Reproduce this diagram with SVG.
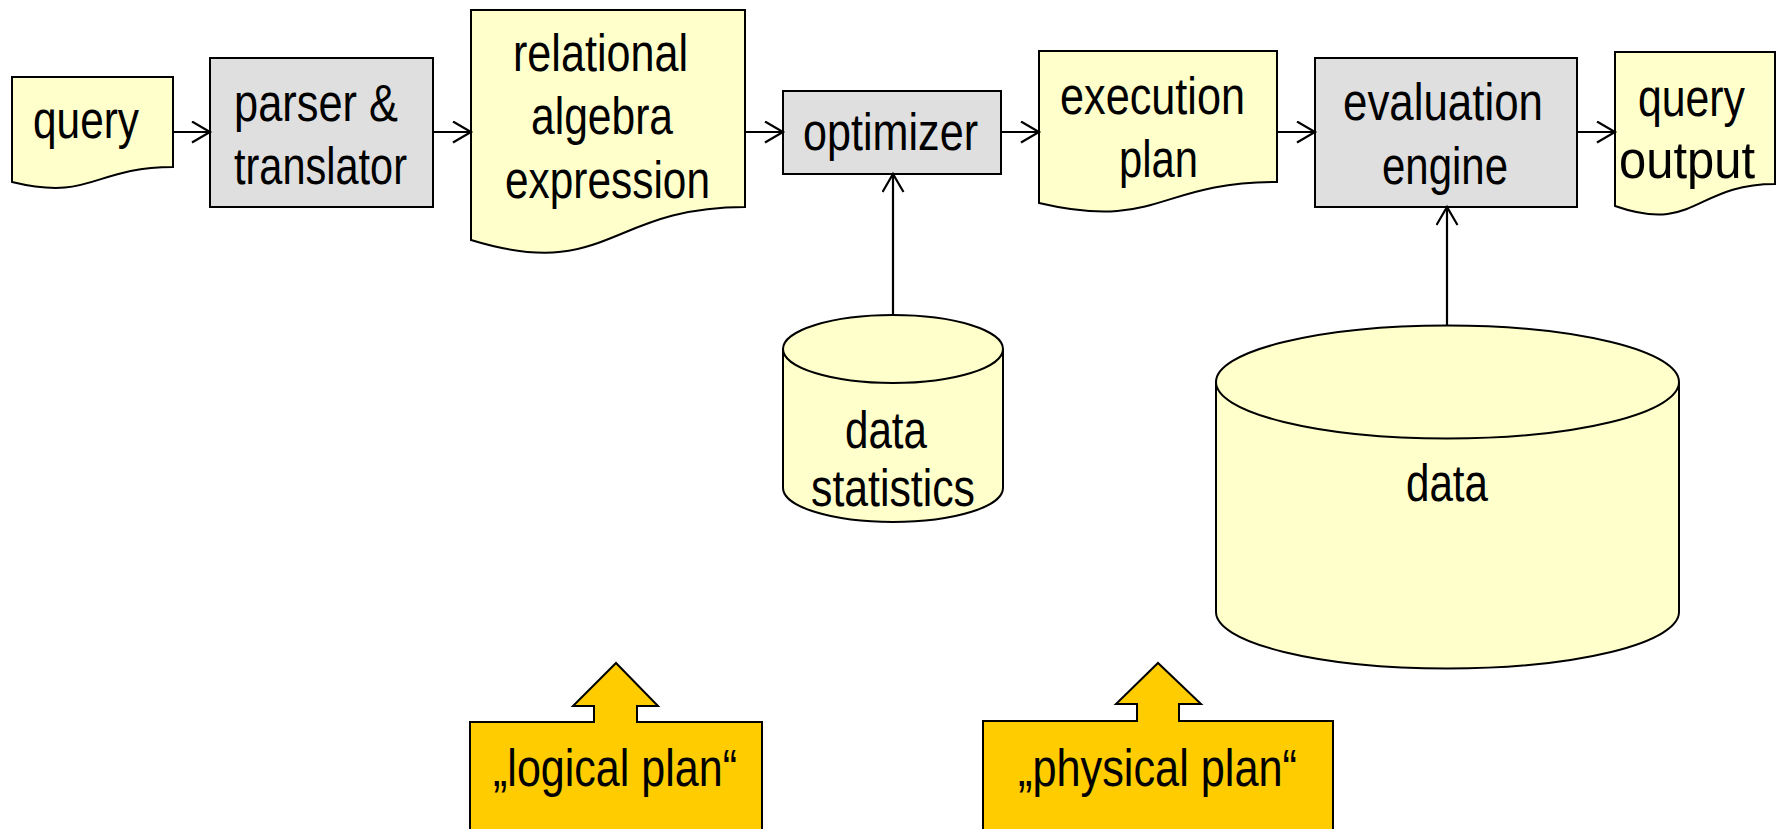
<svg xmlns="http://www.w3.org/2000/svg" width="1781" height="829" viewBox="0 0 1781 829">
  <style>
    .doc { fill: #FFFFCC; stroke: #000; stroke-width: 2; }
    .proc { fill: #DFDFDF; stroke: #000; stroke-width: 2; }
    .db { fill: #FFFFCC; stroke: #000; stroke-width: 2; }
    .note { fill: #FFCC00; stroke: #000; stroke-width: 2; }
    .lbl { font-family: "Liberation Sans", Arial, sans-serif; font-size: 51px; fill: #000; }
    .edge { fill: none; stroke: #000; stroke-width: 2.2; marker-end: url(#open); }
  </style>
  <defs>
    <marker id="open" markerUnits="userSpaceOnUse" markerWidth="24" markerHeight="26" refX="19" refY="11" orient="auto">
      <path d="M1,0.5 L19,11 L1,21.5" fill="none" stroke="#000" stroke-width="2.2"/>
    </marker>
  </defs>

  <rect width="1781" height="829" fill="#fff"/>

  <!-- documents: flat top, wavy bottom -->
  <g id="query">
    <path class="doc" d="M12,77 H173 V167 C92.5,167 92.5,201.5 12,182 Z"/>
    <text class="lbl" x="33" y="138" textLength="106" lengthAdjust="spacingAndGlyphs">query</text>
  </g>

  <g id="parser">
    <rect class="proc" x="210" y="58" width="223" height="149"/>
    <text class="lbl" x="234" y="121" textLength="164" lengthAdjust="spacingAndGlyphs">parser &amp;</text>
    <text class="lbl" x="234" y="184" textLength="173" lengthAdjust="spacingAndGlyphs">translator</text>
  </g>

  <g id="relational-algebra">
    <path class="doc" d="M471,10 H745 V207 C608,207 608,282 471,240 Z"/>
    <text class="lbl" x="513" y="71" textLength="175" lengthAdjust="spacingAndGlyphs">relational</text>
    <text class="lbl" x="531" y="134" textLength="142" lengthAdjust="spacingAndGlyphs">algebra</text>
    <text class="lbl" x="505" y="198" textLength="205" lengthAdjust="spacingAndGlyphs">expression</text>
  </g>

  <g id="optimizer">
    <rect class="proc" x="783" y="91" width="218" height="83"/>
    <text class="lbl" x="803" y="150" textLength="175" lengthAdjust="spacingAndGlyphs">optimizer</text>
  </g>

  <g id="execution-plan">
    <path class="doc" d="M1039,51 H1277 V182 C1158,182 1158,231 1039,203 Z"/>
    <text class="lbl" x="1060" y="114" textLength="185" lengthAdjust="spacingAndGlyphs">execution</text>
    <text class="lbl" x="1119" y="177" textLength="79" lengthAdjust="spacingAndGlyphs">plan</text>
  </g>

  <g id="evaluation-engine">
    <rect class="proc" x="1315" y="58" width="262" height="149"/>
    <text class="lbl" x="1343" y="120" textLength="200" lengthAdjust="spacingAndGlyphs">evaluation</text>
    <text class="lbl" x="1382" y="184" textLength="126" lengthAdjust="spacingAndGlyphs">engine</text>
  </g>

  <g id="query-output">
    <path class="doc" d="M1615,52 H1775 V184 C1695,184 1695,234 1615,206 Z"/>
    <text class="lbl" x="1638" y="116" textLength="107" lengthAdjust="spacingAndGlyphs">query</text>
    <text class="lbl" x="1619" y="178" textLength="136" lengthAdjust="spacingAndGlyphs">output</text>
  </g>

  <!-- storage cylinders -->
  <g id="data-statistics">
    <path class="db" d="M783,349 V488 A110,34 0 0 0 1003,488 V349"/>
    <ellipse class="db" cx="893" cy="349" rx="110" ry="34"/>
    <text class="lbl" x="845" y="448" textLength="82" lengthAdjust="spacingAndGlyphs">data</text>
    <text class="lbl" x="811" y="506" textLength="164" lengthAdjust="spacingAndGlyphs">statistics</text>
  </g>

  <g id="data">
    <path class="db" d="M1216,382 V612 A231.5,56.5 0 0 0 1679,612 V382"/>
    <ellipse class="db" cx="1447.5" cy="382" rx="231.5" ry="56.5"/>
    <text class="lbl" x="1406" y="501" textLength="82" lengthAdjust="spacingAndGlyphs">data</text>
  </g>

  <!-- callouts pointing upward -->
  <g id="logical-plan">
    <path class="note" d="M470,840 V722 H594 V706 H573 L616,663 L658,706 H637 V722 H762 V840"/>
    <text class="lbl" x="493" y="786" textLength="244" lengthAdjust="spacingAndGlyphs">„logical plan“</text>
  </g>

  <g id="physical-plan">
    <path class="note" d="M983,840 V721 H1137 V704 H1116 L1158,663 L1201,704 H1179 V721 H1333 V840"/>
    <text class="lbl" x="1018" y="786" textLength="279" lengthAdjust="spacingAndGlyphs">„physical plan“</text>
  </g>

  <g id="connectors">
    <line class="edge" x1="173" y1="132" x2="210" y2="132"/>
    <line class="edge" x1="433" y1="132" x2="471" y2="132"/>
    <line class="edge" x1="745" y1="132" x2="783" y2="132"/>
    <line class="edge" x1="1001" y1="132" x2="1039" y2="132"/>
    <line class="edge" x1="1277" y1="132" x2="1315" y2="132"/>
    <line class="edge" x1="1577" y1="132" x2="1615" y2="132"/>
    <line class="edge" x1="893" y1="315" x2="893" y2="174"/>
    <line class="edge" x1="1447" y1="325" x2="1447" y2="207"/>
  </g>
</svg>
